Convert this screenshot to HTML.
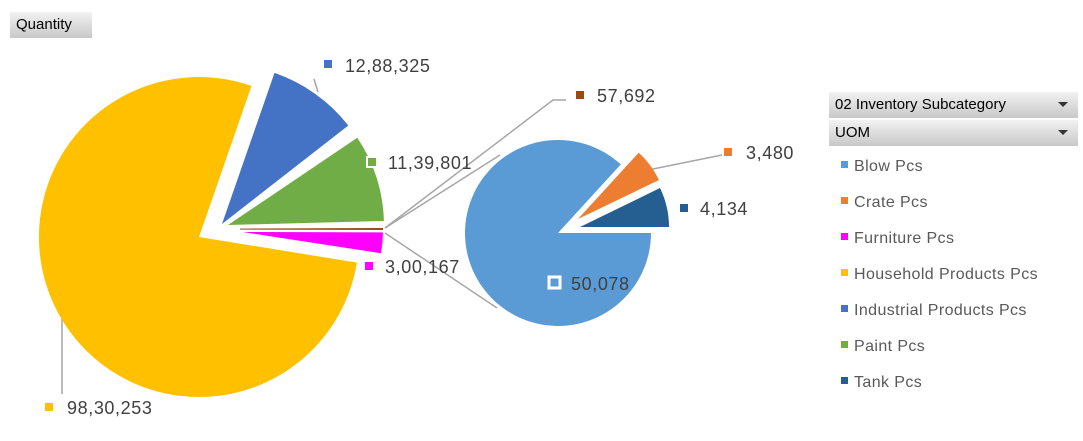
<!DOCTYPE html><html><head><style>
body{margin:0;width:1083px;height:441px;background:#fff;overflow:hidden;font-family:"Liberation Sans",sans-serif;position:relative}
.btn{position:absolute;background:linear-gradient(#f2f2f2,#c8c8c8);color:#000;font-size:15px}
.lg{position:absolute;left:841px;font-size:16px;letter-spacing:0.4px;color:#595959}
.lg i{display:inline-block;width:7px;height:7px;margin-right:6px;vertical-align:3px}
.arr{position:absolute;right:10px;top:10px;border-left:5px solid transparent;border-right:5px solid transparent;border-top:5px solid #333}
</style></head><body>
<div class="btn" style="left:10px;top:12px;width:76px;height:26px;line-height:26px;padding-left:6px">Quantity</div>
<div class="btn" style="left:829px;top:92px;width:243px;height:26px;line-height:26px;padding-left:6px">02 Inventory Subcategory<span class="arr"></span></div>
<div class="btn" style="left:829px;top:120px;width:243px;height:26px;line-height:26px;padding-left:6px">UOM<span class="arr"></span></div>
<div class="lg" style="top:158px"><i style="background:#5b9bd5"></i>Blow Pcs</div>
<div class="lg" style="top:194px"><i style="background:#ed7d31"></i>Crate Pcs</div>
<div class="lg" style="top:230px"><i style="background:#ff00ff"></i>Furniture Pcs</div>
<div class="lg" style="top:266px"><i style="background:#ffc000"></i>Household Products Pcs</div>
<div class="lg" style="top:302px"><i style="background:#4472c4"></i>Industrial Products Pcs</div>
<div class="lg" style="top:338px"><i style="background:#70ad47"></i>Paint Pcs</div>
<div class="lg" style="top:374px"><i style="background:#255e91"></i>Tank Pcs</div>
<svg width="1083" height="441" style="position:absolute;left:0;top:0" font-family="Liberation Sans" font-size="18" letter-spacing="0.6" fill="#404040">
<g stroke="#a6a6a6" stroke-width="1.5" fill="none">
<polyline points="385,228 553,100 566,100"/>
<line x1="385" y1="228" x2="500" y2="155"/>
<line x1="385" y1="233" x2="497" y2="308"/>
<line x1="62" y1="318" x2="62" y2="394"/>
<line x1="318" y1="92" x2="314" y2="79"/>
<line x1="648" y1="170" x2="722" y2="155"/>
</g>
<path d="M199,237 L356.9,262.6 A160,160 0 1,1 251.5,85.9 Z" fill="#ffc000"/>
<path d="M222,224 L274.5,72.9 A160,160 0 0,1 348.3,125.5 Z" fill="#4472c4"/>
<path d="M228,225 L357.3,137.8 A156,156 0 0,1 383.9,221 Z" fill="#70ad47"/>
<path d="M240,228.6 L383,228 L383,230 L240,229.6 Z" fill="#9e480e"/>
<path d="M243,232 L383,232.4 A140,140 0 0,1 381,253.2 Z" fill="#ff00ff"/>
<path d="M558,233 L651,233 A93,93 0 1,1 620.8,164.4 Z" fill="#5b9bd5"/>
<path d="M578,219 L638.8,152.6 A90,90 0 0,1 659,180 Z" fill="#ed7d31"/>
<path d="M580,227 L660,188 A89,89 0 0,1 669,227 Z" fill="#255e91"/>
<rect x="324" y="60" width="8" height="8" fill="#4472c4"/><text x="345" y="72">12,88,325</text>
<rect x="367" y="157" width="10" height="10" fill="#70ad47" stroke="#fff" stroke-width="2"/><text x="388" y="169">11,39,801</text>
<rect x="365" y="262" width="8" height="8" fill="#ff00ff"/><text x="385" y="273">3,00,167</text>
<rect x="45" y="403" width="8" height="8" fill="#ffc000"/><text x="67" y="414">98,30,253</text>
<rect x="576" y="91" width="8" height="8" fill="#9e480e"/><text x="597" y="102">57,692</text>
<rect x="724" y="148" width="8" height="8" fill="#ed7d31"/><text x="746" y="159">3,480</text>
<rect x="680" y="204" width="8" height="8" fill="#255e91"/><text x="700" y="215">4,134</text>
<rect x="549" y="277" width="11" height="11" fill="#5b9bd5" stroke="#fff" stroke-width="3"/><text x="571" y="290">50,078</text>
</svg>
</body></html>
